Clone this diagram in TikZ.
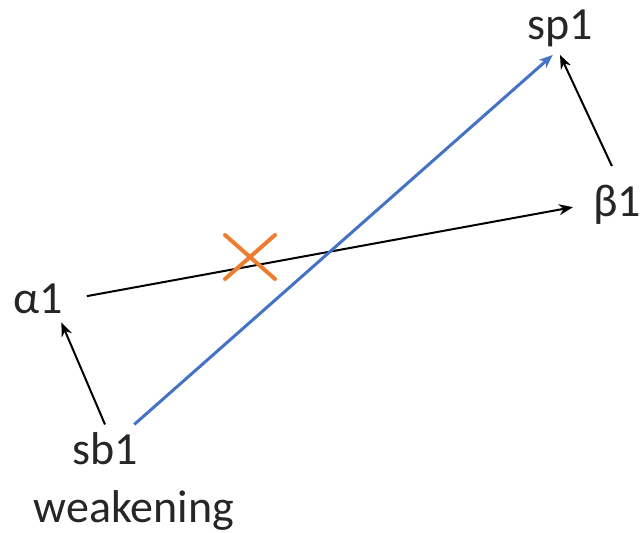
\documentclass[tikz,border=0pt]{standalone}
\usepackage{fontspec}
\setmainfont{Carlito}
\usetikzlibrary{arrows.meta,shapes.misc}
\definecolor{xblue}{HTML}{4472C4}
\definecolor{xorange}{HTML}{ED7D31}
\definecolor{xtext}{HTML}{262626}

\begin{document}
\begin{tikzpicture}[x=0.5pt, y=-0.5pt, >={Stealth[length=7pt,width=5.5pt]},
		font=\fontsize{23}{27}\selectfont,
		lab/.style={text=xtext, inner sep=4pt},
		link/.style={->, line width=1pt, black}]
		\useasboundingbox (0,0) rectangle (642,532);
		% labels
		\node[lab] (sp1) at (560,28) {sp1};
		\node[lab] (beta1) at (617,205) {β1};
		\node[lab] (alpha1) at (38,299) {α1};
		\node[lab] (sb1) at (105,449) {sb1};
		\node[lab, anchor=base] (weak) at (134,522) {weakening};
		% arrows
		\draw[link] (sb1.north) -- (alpha1.-45);
		\draw[link, shorten <=8pt, shorten >=6pt] (alpha1.east) -- (beta1.west);
		\draw[link, shorten <=6pt] (beta1.north) -- (sp1.south);
		\draw[->, line width=1.5pt, xblue] (sb1.40) -- (sp1.-105);
		% the cut
		\node[cross out, draw=xorange, line width=2pt, line cap=round,
			minimum width=23pt, minimum height=20pt, inner sep=0pt] (cut) at (250,257) {};
	\end{tikzpicture}
\end{document}
